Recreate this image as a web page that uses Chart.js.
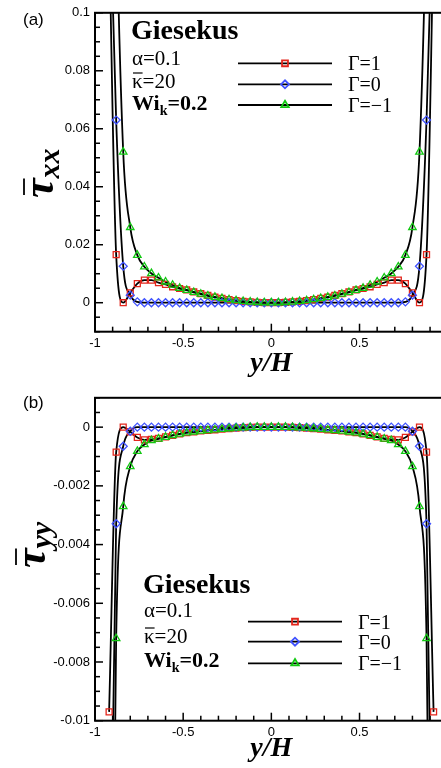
<!DOCTYPE html>
<html>
<head>
<meta charset="utf-8">
<script src="https://cdn.jsdelivr.net/npm/chart.js@4.4.0/dist/chart.umd.min.js"></script>
<style>
html, body { margin: 0; padding: 0; background: #fff; overflow: hidden; width: 441px; height: 768px; }
canvas { position: absolute; left: 0; }
#ca { top: 0; }
#cb { top: 385px; }
</style>
</head>
<body>
<canvas id="ca" width="470" height="385"></canvas>
<canvas id="cb" width="470" height="383"></canvas>
<script>
// symbol positions y/H
var yH = [-0.92,-0.88,-0.84,-0.8,-0.76,-0.72,-0.68,-0.64,-0.6,-0.56,-0.52,-0.48,-0.44,-0.4,-0.36,-0.32,-0.28,-0.24,-0.2,-0.16,-0.12,-0.08,-0.04,
          0,
          0.04,0.08,0.12,0.16,0.2,0.24,0.28,0.32,0.36,0.4,0.44,0.48,0.52,0.56,0.6,0.64,0.68,0.72,0.76,0.8,0.84,0.88,0.92];

// (a) tau_xx
var txxG1 = [0.128,0.0166,0,0.0034,0.0066,0.0078,0.0078,0.0069,0.0063,0.0055,0.0049,0.0044,0.0037,0.0031,0.0025,0.0019,0.0015,0.0011,0.00076,0.00049,0.00027,0.00012,0.00003,
             0,
             0.00003,0.00012,0.00027,0.00049,0.00076,0.0011,0.0015,0.0019,0.0025,0.0031,0.0037,0.0044,0.0049,0.0055,0.0063,0.0069,0.0078,0.0078,0.0066,0.0034,0,0.0166,0.128];
var txxG0 = [0.15,0.063,0.0126,0.0026,0.0003,0,0,0,0,0,0,0,0,0,0,0,0,0,0,0,0,0,0,
             0,
             0,0,0,0,0,0,0,0,0,0,0,0,0,0,0,0,0,0,0.0003,0.0026,0.0126,0.063,0.15];
var txxGm1 = [0.3,0.14,0.052,0.026,0.0164,0.0124,0.0101,0.0086,0.0072,0.0061,0.005,0.0043,0.0036,0.003,0.0024,0.0019,0.0015,0.0011,0.00076,0.00049,0.00027,0.00012,0.00003,
              0,
              0.00003,0.00012,0.00027,0.00049,0.00076,0.0011,0.0015,0.0019,0.0024,0.003,0.0036,0.0043,0.005,0.0061,0.0072,0.0086,0.0101,0.0124,0.0164,0.026,0.052,0.14,0.3];

// (b) tau_yy
var tyyG1 = [-0.0097,-0.00085,0,-0.00016,-0.00035,-0.00043,-0.00042,-0.00038,-0.00033,-0.00028,-0.00023,-0.00019,-0.00016,-0.00013,-0.00011,-0.00009,-0.00007,-0.00005,-0.00003,-0.00002,-0.00001,0,0,
             0,
             0,0,-0.00001,-0.00002,-0.00003,-0.00005,-0.00007,-0.00009,-0.00011,-0.00013,-0.00016,-0.00019,-0.00023,-0.00028,-0.00033,-0.00038,-0.00042,-0.00043,-0.00035,-0.00016,0,-0.00085,-0.0097];
var tyyG0 = [-0.02,-0.00329,-0.00065,-0.00014,0,0,0,0,0,0,0,0,0,0,0,0,0,0,0,0,0,0,0,
             0,
             0,0,0,0,0,0,0,0,0,0,0,0,0,0,0,0,0,0,0,-0.00014,-0.00065,-0.00329,-0.02];
var tyyGm1 = [-0.03,-0.0072,-0.0027,-0.00134,-0.00082,-0.00059,-0.00045,-0.0004,-0.00034,-0.00028,-0.00023,-0.00019,-0.00016,-0.00013,-0.00011,-0.00009,-0.00007,-0.00005,-0.00003,-0.00002,-0.00001,0,0,
              0,
              0,0,-0.00001,-0.00002,-0.00003,-0.00005,-0.00007,-0.00009,-0.00011,-0.00013,-0.00016,-0.00019,-0.00023,-0.00028,-0.00034,-0.0004,-0.00045,-0.00059,-0.00082,-0.00134,-0.0027,-0.0072,-0.03];

var xTicks = [-1, -0.5, 0, 0.5, 1];
var xTickLabels = ['-1', '-0.5', '0', '0.5', '1'];
var txxTicks = [0, 0.02, 0.04, 0.06, 0.08, 0.1];
var txxTickLabels = ['0', '0.02', '0.04', '0.06', '0.08', '0.1'];
var tyyTicks = [-0.01, -0.008, -0.006, -0.004, -0.002, 0];
var tyyTickLabels = ['-0.01', '-0.008', '-0.006', '-0.004', '-0.002', '0'];
var legendLabels = ['\u0393=1', '\u0393=0', '\u0393=\u22121'];

var SERIF = '"Liberation Serif", "Times New Roman", serif';
var SANS = '"Liberation Sans", Arial, sans-serif';
var styles = [
    { color: '#e3261c', shape: 'rect', radius: 4.2 },
    { color: '#3f52ff', shape: 'rectRot', radius: 4 },
    { color: '#12c812', shape: 'triangle', radius: 4.3 }
];

function pts(vals) {
    return yH.map(function (x, i) { return { x: x, y: vals[i] }; });
}

function makeDatasets(series) {
    var ds = [];
    // symbols: green on top, then blue, then red
    [2, 1, 0].forEach(function (k) {
        ds.push({
            data: pts(series[k]),
            showLine: false,
            pointStyle: styles[k].shape,
            pointRadius: styles[k].radius,
            pointBorderColor: styles[k].color,
            pointBackgroundColor: 'rgba(255,255,255,0)',
            pointBorderWidth: 1.3,
            order: 0
        });
    });
    series.forEach(function (s) {
        ds.push({
            data: pts(s),
            borderColor: '#000',
            borderWidth: 1.8,
            pointRadius: 0,
            cubicInterpolationMode: 'monotone',
            order: 1
        });
    });
    return ds;
}

function drawMarker(ctx, k, x, y) {
    ctx.strokeStyle = styles[k].color;
    ctx.fillStyle = 'rgba(255,255,255,0)';
    Chart.helpers.drawPoint(ctx, { pointStyle: styles[k].shape, radius: styles[k].radius, rotation: 0, borderWidth: 1.3 }, x, y);
}

var deco = {
    id: 'deco',
    afterDraw: function (chart, args, o) {
        var ctx = chart.ctx, a = chart.chartArea, sx = chart.scales.x, sy = chart.scales.y, i;
        ctx.save();
        ctx.strokeStyle = '#000';
        function seg(x1, y1, x2, y2) { ctx.beginPath(); ctx.moveTo(x1, y1); ctx.lineTo(x2, y2); ctx.stroke(); }
        // inward ticks
        ctx.lineWidth = 1.5;
        for (i = -10; i <= 10; i++) {
            var px = sx.getPixelForValue(i / 10);
            seg(px, a.bottom, px, a.bottom - (i % 5 === 0 ? 8 : 5));
        }
        for (i = o.yMinorFrom; i <= o.yMinorTo; i++) {
            var py = sy.getPixelForValue(i * o.yMinorStep);
            if (py < a.top - 0.5 || py > a.bottom + 0.5) continue;
            seg(a.left, py, a.left + (i % 4 === 0 ? 8 : 5), py);
        }
        // frame
        ctx.lineWidth = 2;
        ctx.strokeRect(a.left, a.top, a.right - a.left, a.bottom - a.top);

        // legend
        o.legY.forEach(function (ly, k) {
            ctx.strokeStyle = '#000';
            ctx.lineWidth = 1.8;
            seg(o.legX0, ly, o.legX1, ly);
            drawMarker(ctx, k, (o.legX0 + o.legX1) / 2, ly);
            ctx.fillStyle = '#000';
            ctx.font = '20px ' + SERIF;
            ctx.textAlign = 'left';
            ctx.textBaseline = 'alphabetic';
            ctx.fillText(legendLabels[k], o.legTx, ly + 7);
        });

        // annotation block
        var x = o.noteX, w, w2;
        ctx.fillStyle = '#000';
        ctx.textAlign = 'left';
        ctx.textBaseline = 'alphabetic';
        ctx.font = 'bold 28px ' + SERIF;
        ctx.fillText('Giesekus', x - 1, o.noteY[0]);
        ctx.font = '21px ' + SERIF;
        ctx.fillText('\u03b1=0.1', x, o.noteY[1]);
        ctx.fillText('\u03ba', x, o.noteY[2]);
        w = ctx.measureText('\u03ba').width;
        ctx.fillText('=20', x + w, o.noteY[2]);
        ctx.strokeStyle = '#000';
        ctx.lineWidth = 1.2;
        seg(x + 1, o.noteY[2] - 15, x + w, o.noteY[2] - 15);
        ctx.font = 'bold 22px ' + SERIF;
        ctx.fillText('Wi', x, o.noteY[3]);
        w = ctx.measureText('Wi').width;
        ctx.font = 'bold 14px ' + SERIF;
        ctx.fillText('k', x + w, o.noteY[3] + 5);
        w2 = ctx.measureText('k').width;
        ctx.font = 'bold 22px ' + SERIF;
        ctx.fillText('=0.2', x + w + w2, o.noteY[3]);

        // panel tag
        ctx.font = '17px ' + SANS;
        ctx.fillText(o.tag, 23, o.tagY);

        // rotated y title: tau-bar with subscript
        ctx.translate(o.ytX, o.ytY);
        ctx.rotate(-Math.PI / 2);
        ctx.font = 'bold italic 44px ' + SERIF;
        ctx.fillText('\u03c4', 0, 0);
        w = ctx.measureText('\u03c4').width;
        ctx.lineWidth = 1.8;
        seg(3, -29, w, -29);
        ctx.font = 'bold italic 30px ' + SERIF;
        ctx.fillText(o.sub, w, 6);
        ctx.restore();
    }
};

function makeChart(id, series, ymin, ymax, ticks, tickLabels, pad, xAxisH, deco_o) {
    return new Chart(document.getElementById(id), {
        type: 'line',
        data: { datasets: makeDatasets(series) },
        options: {
            responsive: false,
            animation: false,
            layout: { padding: pad },
            plugins: { legend: { display: false }, tooltip: { enabled: false }, deco: deco_o },
            scales: {
                x: {
                    type: 'linear', min: -1, max: 1,
                    grid: { display: false, drawTicks: false },
                    border: { display: false },
                    afterBuildTicks: function (s) { s.ticks = xTicks.map(function (v) { return { value: v }; }); },
                    afterFit: function (s) { s.height = xAxisH; },
                    ticks: {
                        autoSkip: false, maxRotation: 0, padding: 4, color: '#000',
                        font: { family: SANS, size: 13 },
                        callback: function (v) { return xTickLabels[xTicks.indexOf(v)]; }
                    },
                    title: {
                        display: true, text: 'y/H', color: '#000',
                        font: { family: SERIF, size: 28, weight: 'bold', style: 'italic' },
                        padding: { top: 0, bottom: deco_o.xtPad }
                    }
                },
                y: {
                    type: 'linear', min: ymin, max: ymax,
                    grid: { display: false, drawTicks: false },
                    border: { display: false },
                    afterBuildTicks: function (s) { s.ticks = ticks.map(function (v) { return { value: v }; }); },
                    afterFit: function (s) { s.width = 95; },
                    ticks: {
                        autoSkip: false, padding: 5, color: '#000',
                        font: { family: SANS, size: 13 },
                        callback: function (v) { return tickLabels[ticks.indexOf(v)]; }
                    }
                }
            }
        },
        plugins: [deco]
    });
}

makeChart('ca', [txxG1, txxG0, txxGm1], -0.01, 0.1, txxTicks, txxTickLabels,
    { top: 10, right: 22.3, left: 0, bottom: 0 }, 53.3,
    { yMinorFrom: -2, yMinorTo: 20, yMinorStep: 0.005,
      legX0: 238, legX1: 332, legTx: 348, legY: [63.3, 84.3, 105],
      noteX: 132, noteY: [39, 65, 88, 110],
      tag: '(a)', tagY: 25, ytX: 53, ytY: 198, sub: 'xx', xtPad: 4 });

makeChart('cb', [tyyG1, tyyG0, tyyGm1], -0.01, 0.001, tyyTicks, tyyTickLabels,
    { top: 12.7, right: 22.3, left: 0, bottom: 0 }, 47.3,
    { yMinorFrom: -20, yMinorTo: 2, yMinorStep: 0.0005,
      legX0: 248, legX1: 342, legTx: 358, legY: [236.7, 256.7, 278.3],
      noteX: 144, noteY: [208, 232, 258, 282],
      tag: '(b)', tagY: 23, ytX: 45, ytY: 183, sub: 'yy', xtPad: 2 });
</script>
</body>
</html>
